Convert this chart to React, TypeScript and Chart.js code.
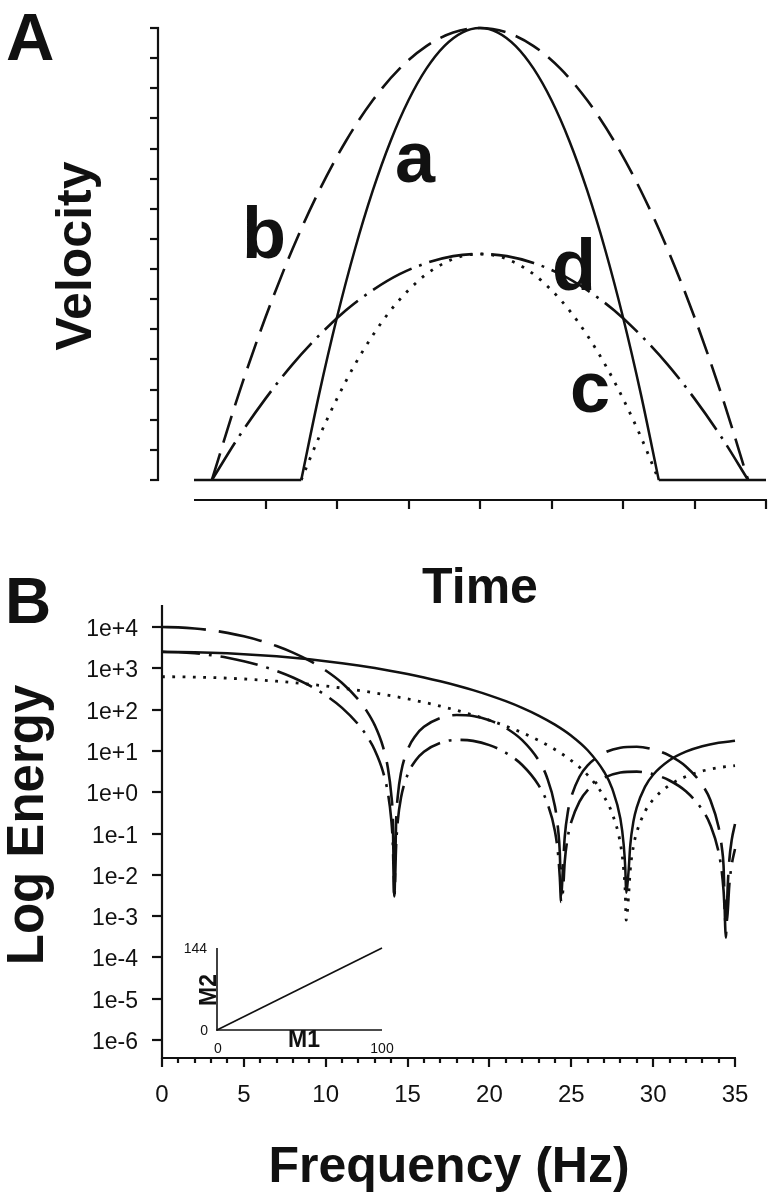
import { useEffect, useRef } from 'react';
import { Chart, registerables } from 'chart.js';

Chart.register(...registerables);

const W = 782;
const H = 1199;
const INK = '#111111';
const SANS = '"Liberation Sans", Arial, Helvetica, sans-serif';

// ---------------- Panel A : velocity profiles ----------------
const timeTicksA = [1, 2, 3, 4, 5, 6, 7, 8];
const velocityTicksA = [0, 1, 2, 3, 4, 5, 6, 7, 8, 9, 10, 11, 12, 13, 14, 15];

const timeShort = [1.5, 1.75, 2, 2.25, 2.5, 2.75, 3, 3.25, 3.5, 3.75, 4, 4.25, 4.5, 4.75, 5, 5.25, 5.5, 5.75, 6, 6.25, 6.5];
const timeLong = [0.25, 0.625, 1, 1.375, 1.75, 2.125, 2.5, 2.875, 3.25, 3.625, 4, 4.375, 4.75, 5.125, 5.5, 5.875, 6.25, 6.625, 7, 7.375, 7.75];
const velocityA = [0, 2.85, 5.4, 7.65, 9.6, 11.25, 12.6, 13.65, 14.4, 14.85, 15, 14.85, 14.4, 13.65, 12.6, 11.25, 9.6, 7.65, 5.4, 2.85, 0];
const velocityB = [0, 2.85, 5.4, 7.65, 9.6, 11.25, 12.6, 13.65, 14.4, 14.85, 15, 14.85, 14.4, 13.65, 12.6, 11.25, 9.6, 7.65, 5.4, 2.85, 0];
const velocityC = [0, 1.43, 2.7, 3.83, 4.8, 5.63, 6.3, 6.83, 7.2, 7.43, 7.5, 7.43, 7.2, 6.83, 6.3, 5.63, 4.8, 3.83, 2.7, 1.43, 0];
const velocityD = [0, 1.43, 2.7, 3.83, 4.8, 5.63, 6.3, 6.83, 7.2, 7.43, 7.5, 7.43, 7.2, 6.83, 6.3, 5.63, 4.8, 3.83, 2.7, 1.43, 0];
const baseLeftTime = [0, 1.5];
const baseRightTime = [6.5, 8];
const baseVelocity = [0, 0];

// ---------------- Panel B : energy spectra ----------------
const freqTicksB = [0, 5, 10, 15, 20, 25, 30, 35];
const energyTicksB = [1e4, 1e3, 1e2, 1e1, 1e0, 1e-1, 1e-2, 1e-3, 1e-4, 1e-5, 1e-6];
const energyTickLabelsB = ['1e+4', '1e+3', '1e+2', '1e+1', '1e+0', '1e-1', '1e-2', '1e-3', '1e-4', '1e-5', '1e-6'];

const freqAC = [0, 1, 2, 3, 4, 5, 6, 7, 8, 9, 10, 11, 12, 13, 14, 15, 16, 17, 18, 19, 20, 21, 22, 23, 24, 25, 26, 27,
  27.5, 28, 28.2, 28.3, 28.35, 28.5, 28.6, 28.8, 29, 29.5, 30, 31, 32, 33, 34, 35];
const energyA = [2500, 2487.5, 2450.5, 2389.5, 2306.5, 2203.5, 2082.8, 1947.5, 1800.8, 1646, 1486.5, 1325.5, 1166.3, 1011.8,
  864.5, 726.5, 599.5, 485, 383.8, 295.8, 221.2, 159.7, 110.2, 71.8, 43.3, 23.3, 10.37, 3.128,
  1.215, 0.2265, 0.054, 0.014, 0.0037, 0.0124, 0.051, 0.2, 0.43, 1.348, 2.645, 5.94, 9.57, 12.95, 15.7, 17.58];
const energyC = [625, 621.9, 612.6, 597.4, 576.6, 550.9, 520.7, 486.9, 450.2, 411.5, 371.6, 331.4, 291.6, 253,
  216.1, 181.6, 149.9, 121.3, 95.9, 73.9, 55.3, 39.9, 27.6, 17.95, 10.83, 5.83, 2.59, 0.782,
  0.304, 0.0566, 0.0136, 0.0035, 0.0008, 0.0031, 0.0128, 0.05, 0.1075, 0.337, 0.661, 1.485, 2.39, 3.24, 3.93, 4.39];

const freqBD = [0, 1, 2, 3, 4, 5, 6, 7, 8, 9, 10, 11, 12,
  12.5, 13, 13.5, 13.8, 14, 14.1, 14.19, 14.3, 14.4, 14.6,
  15, 15.5, 16, 17, 18, 19, 20, 21, 22, 23,
  23.5, 24, 24.2, 24.3, 24.38, 24.5, 24.6, 24.8, 25, 25.5,
  26, 27, 28, 29, 30, 31, 32, 33, 33.5, 34,
  34.2, 34.3, 34.44, 34.55, 34.65, 34.8, 35];
const energyB = [10000, 9802, 9226, 8331, 7203, 5946, 4665, 3458, 2398, 1535, 884.9, 440.7, 173.2,
  93.18, 41.48, 12.51, 3.792, 0.9058, 0.223, 0.003, 0.198, 0.79, 2.977,
  10.58, 23.76, 38.27, 62.81, 73.9, 70.01, 55.22, 35.95, 18.2, 5.94,
  2.368, 0.4588, 0.1195, 0.034, 0.0032, 0.0174, 0.0826, 0.349, 0.7633, 2.365,
  4.473, 8.907, 11.96, 12.6, 10.88, 7.688, 4.211, 1.499, 0.6368, 0.141,
  0.0446, 0.0168, 0.0003, 0.0048, 0.0221, 0.07, 0.1697];
const energyD = [2500, 2450.5, 2306.5, 2082.8, 1800.8, 1486.5, 1166.3, 864.5, 599.5, 383.8, 221.2, 110.2, 43.3,
  23.3, 10.37, 3.128, 0.948, 0.2265, 0.0557, 0.0028, 0.0495, 0.1975, 0.744,
  2.645, 5.94, 9.57, 15.7, 18.48, 17.5, 13.8, 8.99, 4.55, 1.485,
  0.592, 0.1147, 0.0299, 0.0085, 0.0022, 0.00435, 0.0207, 0.0873, 0.1908, 0.591,
  1.118, 2.227, 2.99, 3.15, 2.72, 1.922, 1.053, 0.375, 0.1592, 0.0353,
  0.0112, 0.0042, 0.0006, 0.0012, 0.0055, 0.0175, 0.0424];

// ---------------- Inset : M2 vs M1 ----------------
const insetM1 = [0, 100];
const insetM2 = [0, 144];

// ---------------- helpers ----------------
function pts(xs: number[], ys: number[]) {
  return xs.map((x, i) => ({ x, y: ys[i] }));
}

function seg(ctx: CanvasRenderingContext2D, x1: number, y1: number, x2: number, y2: number) {
  ctx.beginPath();
  ctx.moveTo(x1, y1);
  ctx.lineTo(x2, y2);
  ctx.stroke();
}

function label(ctx: CanvasRenderingContext2D, s: string, x: number, y: number, font: string,
  align: CanvasTextAlign = 'left', rot = 0) {
  ctx.save();
  ctx.translate(x, y);
  if (rot) ctx.rotate(rot);
  ctx.font = font;
  ctx.textAlign = align;
  ctx.textBaseline = 'alphabetic';
  ctx.fillStyle = INK;
  ctx.fillText(s, 0, 0);
  ctx.restore();
}

function style(dash: number[], width: number, curved = true) {
  return {
    borderColor: INK,
    backgroundColor: INK,
    borderWidth: width,
    borderDash: dash,
    borderCapStyle: 'butt',
    pointRadius: 0,
    pointHoverRadius: 0,
    fill: false,
    tension: 0,
    cubicInterpolationMode: curved ? 'monotone' : 'default',
    clip: false,
  };
}

const baseOptions = {
  responsive: false,
  animation: false,
  devicePixelRatio: 1,
  events: [],
  plugins: { legend: { display: false }, tooltip: { enabled: false } },
};

const panelAPlugin = {
  id: 'panelAAxes',
  afterDraw(chart: any) {
    const { ctx } = chart;
    const xs = chart.scales.x;
    const ys = chart.scales.y;
    ctx.save();
    ctx.strokeStyle = INK;
    ctx.lineWidth = 2.2;
    const axX = Math.round(xs.getPixelForValue(-0.5));
    seg(ctx, axX, ys.getPixelForValue(15) - 1, axX, ys.getPixelForValue(0) + 1);
    velocityTicksA.forEach((v) => {
      const y = Math.round(ys.getPixelForValue(v));
      seg(ctx, axX - 8, y, axX + 1, y);
    });
    const axY = Math.round(ys.getPixelForValue(-0.65));
    seg(ctx, xs.getPixelForValue(0), axY, xs.getPixelForValue(8) + 1, axY);
    timeTicksA.forEach((t) => {
      const x = Math.round(xs.getPixelForValue(t));
      seg(ctx, x, axY, x, axY + 9);
    });
    ctx.restore();

    label(ctx, 'A', 6, 60, `bold 67px ${SANS}`);
    label(ctx, 'Velocity', 91, 256, `bold 50px ${SANS}`, 'center', -Math.PI / 2);
    label(ctx, 'Time', 480, 603, `bold 50px ${SANS}`, 'center');
    const f = `bold 72px ${SANS}`;
    label(ctx, 'a', 415, 182, f, 'center');
    label(ctx, 'b', 264, 258, f, 'center');
    label(ctx, 'd', 574, 290, f, 'center');
    label(ctx, 'c', 590, 412, f, 'center');
  },
};

const panelBPlugin = {
  id: 'panelBAxes',
  afterDraw(chart: any) {
    const { ctx } = chart;
    const xs = chart.scales.x;
    const ys = chart.scales.y;
    ctx.save();
    ctx.strokeStyle = INK;
    ctx.lineWidth = 2.2;
    const axX = Math.round(xs.getPixelForValue(0));
    const axTop = ys.getPixelForValue(Math.pow(10, 4.53));
    const axY = Math.round(ys.getPixelForValue(Math.pow(10, -6.43)));
    seg(ctx, axX, axTop, axX, axY + 1);
    energyTicksB.forEach((v, i) => {
      const y = Math.round(ys.getPixelForValue(v));
      seg(ctx, axX - 10, y, axX, y);
      label(ctx, energyTickLabelsB[i], axX - 24, y + 8.5, `23px ${SANS}`, 'right');
    });
    seg(ctx, axX - 1, axY, xs.getPixelForValue(35) + 1, axY);
    for (let f = 0; f <= 35; f += 1) {
      const x = Math.round(xs.getPixelForValue(f));
      const major = freqTicksB.includes(f);
      seg(ctx, x, axY, x, axY + (major ? 9 : 5));
    }
    freqTicksB.forEach((f) => {
      label(ctx, String(f), xs.getPixelForValue(f), 1102, `24px ${SANS}`, 'center');
    });
    ctx.restore();

    label(ctx, 'B', 5, 623, `bold 64px ${SANS}`);
    label(ctx, 'Log Energy', 43, 825, `bold 51px ${SANS}`, 'center', -Math.PI / 2);
    label(ctx, 'Frequency (Hz)', 449, 1182, `bold 50px ${SANS}`, 'center');
  },
};

const insetPlugin = {
  id: 'insetAxes',
  afterDraw(chart: any) {
    const { ctx } = chart;
    const xs = chart.scales.x;
    const ys = chart.scales.y;
    ctx.save();
    ctx.strokeStyle = INK;
    ctx.lineWidth = 1.6;
    const x0 = xs.getPixelForValue(0);
    const x1 = xs.getPixelForValue(100);
    const y0 = ys.getPixelForValue(0);
    const y1 = ys.getPixelForValue(144);
    seg(ctx, x0, y1, x0, y0 + 0.8);
    seg(ctx, x0 - 0.8, y0, x1, y0);
    ctx.restore();
    const small = `14px ${SANS}`;
    label(ctx, '144', x0 - 10, y1 + 5, small, 'right');
    label(ctx, '0', x0 - 9, y0 + 5, small, 'right');
    label(ctx, '0', x0 + 1, y0 + 23, small, 'center');
    label(ctx, '100', x1, y0 + 23, small, 'center');
    label(ctx, 'M1', 304, 1047, `bold 23px ${SANS}`, 'center');
    label(ctx, 'M2', x0 - 1, 990, `bold 23px ${SANS}`, 'center', -Math.PI / 2);
  },
};

function makeConfigA(): any {
  return {
    type: 'line',
    data: {
      datasets: [
        { data: pts(baseLeftTime, baseVelocity), ...style([], 2.5, false) },
        { data: pts(baseRightTime, baseVelocity), ...style([], 2.5, false) },
        { data: pts(timeShort, velocityA), ...style([], 2.5) },
        { data: pts(timeLong, velocityB), ...style([28, 11], 2.6) },
        { data: pts(timeShort, velocityC), ...style([2.8, 8], 2.8) },
        { data: pts(timeLong, velocityD), ...style([44, 8, 2.8, 8], 2.6) },
      ],
    },
    options: {
      ...baseOptions,
      layout: { padding: { left: 194, right: W - 766, top: 28, bottom: H - 480 } },
      scales: {
        x: { type: 'linear', min: 0, max: 8, display: false },
        y: { type: 'linear', min: 0, max: 15, display: false },
      },
    },
    plugins: [panelAPlugin],
  };
}

function makeConfigB(): any {
  return {
    type: 'line',
    data: {
      datasets: [
        { data: pts(freqAC, energyA), ...style([], 2.5) },
        { data: pts(freqBD, energyB), ...style([44, 13], 2.6) },
        { data: pts(freqAC, energyC), ...style([2.8, 7.5], 2.8) },
        { data: pts(freqBD, energyD), ...style([38, 9, 2.8, 9], 2.6) },
      ],
    },
    options: {
      ...baseOptions,
      layout: { padding: { left: 162, right: W - 735, top: 627, bottom: H - 1040 } },
      scales: {
        x: { type: 'linear', min: 0, max: 35, display: false },
        y: { type: 'logarithmic', min: 1e-6, max: 1e4, display: false },
      },
    },
    plugins: [panelBPlugin],
  };
}

function makeConfigInset(): any {
  return {
    type: 'line',
    data: {
      datasets: [{ data: pts(insetM1, insetM2), ...style([], 1.7, false) }],
    },
    options: {
      ...baseOptions,
      layout: { padding: { left: 217, right: W - 382, top: 948, bottom: H - 1030 } },
      scales: {
        x: { type: 'linear', min: 0, max: 100, display: false },
        y: { type: 'linear', min: 0, max: 144, display: false },
      },
    },
    plugins: [insetPlugin],
  };
}

export default function App() {
  const refA = useRef<HTMLCanvasElement>(null);
  const refB = useRef<HTMLCanvasElement>(null);
  const refI = useRef<HTMLCanvasElement>(null);

  useEffect(() => {
    const charts: Chart[] = [];
    if (refA.current) charts.push(new Chart(refA.current, makeConfigA()));
    if (refB.current) charts.push(new Chart(refB.current, makeConfigB()));
    if (refI.current) charts.push(new Chart(refI.current, makeConfigInset()));
    return () => charts.forEach((c) => c.destroy());
  }, []);

  const cv: any = { position: 'absolute', left: 0, top: 0, width: W, height: H };
  return (
    <div style={{ position: 'absolute', left: 0, top: 0, width: W, height: H, background: '#fff', overflow: 'hidden' }}>
      <canvas ref={refA} width={W} height={H} style={cv} />
      <canvas ref={refB} width={W} height={H} style={cv} />
      <canvas ref={refI} width={W} height={H} style={cv} />
    </div>
  );
}
